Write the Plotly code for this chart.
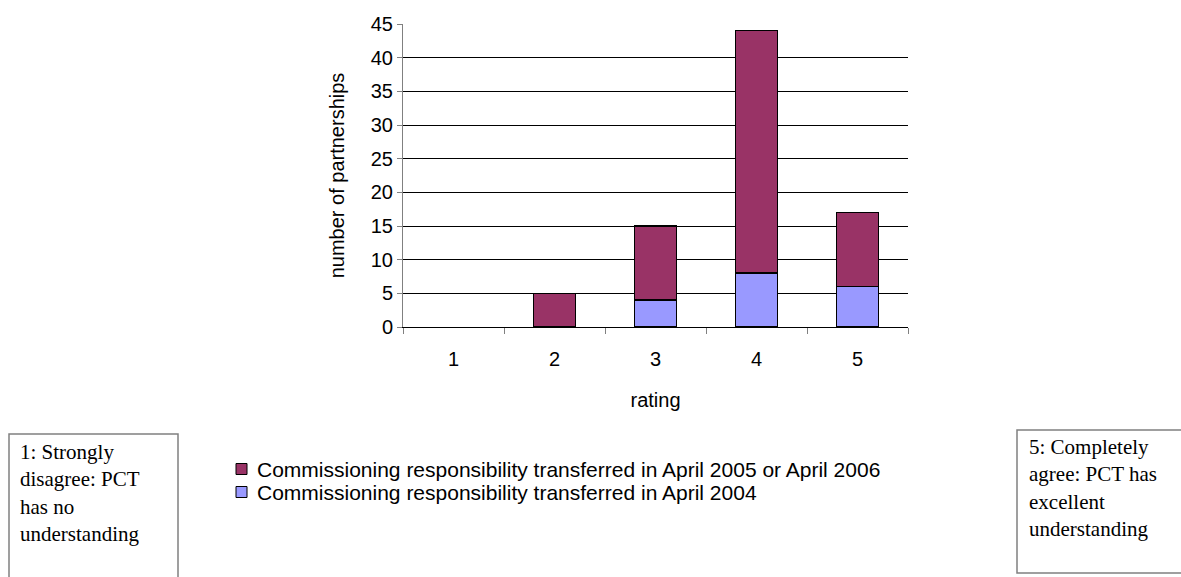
import plotly.graph_objects as go

# Survey responses by rating, split by when commissioning responsibility moved
ratings = ["1", "2", "3", "4", "5"]
transferred_2004 = [0, 0, 4, 8, 6]
transferred_2005_2006 = [0, 5, 11, 36, 11]

name_2004 = "Commissioning responsibility transferred in April 2004"
name_2005_2006 = "Commissioning responsibility transferred in April 2005 or April 2006"
color_2004 = "#9999FF"
color_2005_2006 = "#993366"

y_ticks = list(range(0, 50, 5))

W, H = 1181, 577
L, R, T, B = 403, 908, 24, 327  # plot area in pixels


def px(x):
    return (x - L) / (R - L)


def py(y):
    return (B - y) / (B - T)


def outline(values):
    # no outline on empty segments so they leave no stray line on the axis
    return [0 if v == 0 else 1.5 for v in values]


fig = go.Figure()
fig.add_trace(go.Bar(
    x=ratings, y=transferred_2004, name=name_2004,
    marker=dict(color=color_2004, line=dict(color="black", width=outline(transferred_2004))),
    width=0.42,
))
fig.add_trace(go.Bar(
    x=ratings, y=transferred_2005_2006, name=name_2005_2006,
    marker=dict(color=color_2005_2006, line=dict(color="black", width=outline(transferred_2005_2006))),
    width=0.42,
))

sans = "Liberation Sans, Arial, sans-serif"
serif = "Liberation Serif, Times New Roman, serif"

shapes = []
annotations = []

# Explanatory boxes for the ends of the rating scale
boxes = [
    (9, 434, 178, 590, "1: Strongly<br>disagree: PCT<br>has no<br>understanding", 18, 438),
    (1017, 430, 1195, 573, "5: Completely<br>agree: PCT has<br>excellent<br>understanding", 1027, 433),
]
for x0, y0, x1, y1, text, tx, ty in boxes:
    shapes.append(dict(
        type="rect", xref="paper", yref="paper",
        x0=px(x0), x1=px(x1), y0=py(y0), y1=py(y1),
        line=dict(color="#808080", width=1.5), fillcolor="white", layer="below",
    ))
    annotations.append(dict(
        xref="paper", yref="paper", x=px(tx), y=py(ty),
        xanchor="left", yanchor="top", align="left", showarrow=False,
        text=text, font=dict(family=serif, size=21, color="black"),
    ))

# Legend: swatch plus label for each series, top entry first
legend_rows = [(name_2005_2006, color_2005_2006, 469), (name_2004, color_2004, 492)]
for name, color, cy in legend_rows:
    shapes.append(dict(
        type="rect", xref="paper", yref="paper",
        x0=px(236), x1=px(247), y0=py(cy - 5.5), y1=py(cy + 5.5),
        line=dict(color="black", width=1), fillcolor=color,
    ))
    annotations.append(dict(
        xref="paper", yref="paper", x=px(255), y=py(cy),
        xanchor="left", yanchor="middle", align="left", showarrow=False,
        text=name, font=dict(family=sans, size=21, color="black"),
    ))

fig.update_layout(
    width=W, height=H,
    margin=dict(l=L, r=W - R, t=T, b=H - B, autoexpand=False),
    paper_bgcolor="white", plot_bgcolor="white",
    barmode="stack",
    showlegend=False,
    font=dict(family=sans, size=20, color="black"),
    xaxis=dict(
        type="category", tickson="boundaries", ticks="outside", ticklen=6,
        tickcolor="#808080", showline=True, linecolor="black", linewidth=1,
        showgrid=False, tickfont=dict(size=20), ticklabelstandoff=14,
        title=dict(text="rating", font=dict(size=20), standoff=23),
    ),
    yaxis=dict(
        range=[0, 45], tickvals=y_ticks, ticks="outside", ticklen=5,
        tickcolor="#808080", showline=True, linecolor="#808080", linewidth=1,
        showgrid=True, gridcolor="black", gridwidth=1, zeroline=False,
        tickfont=dict(size=20),
        title=dict(text="number of partnerships", font=dict(size=20), standoff=20),
    ),
    shapes=shapes,
    annotations=annotations,
)

fig.write_html("out.html")
